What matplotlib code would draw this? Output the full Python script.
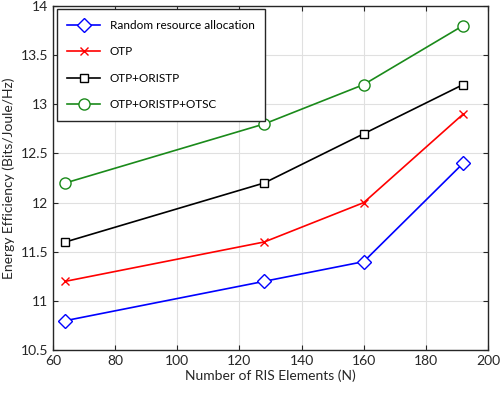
import matplotlib.pyplot as plt

plt.rcParams['font.family'] = ['Lato', 'DejaVu Sans']

n_elements = [64, 128, 160, 192]
random_alloc = [10.8, 11.2, 11.4, 12.4]
otp = [11.2, 11.6, 12.0, 12.9]
otp_oristp = [11.6, 12.2, 12.7, 13.2]
otp_oristp_otsc = [12.2, 12.8, 13.2, 13.8]

fig = plt.figure(figsize=(5, 3.93), dpi=100)
ax = fig.add_axes([0.106, 0.109, 0.87, 0.876])

ax.plot(n_elements, random_alloc, color='blue', marker='D', markersize=7,
        markerfacecolor='white', lw=1.2, label='Random resource allocation')
ax.plot(n_elements, otp, color='red', marker='x', markersize=6,
        lw=1.2, label='OTP')
ax.plot(n_elements, otp_oristp, color='black', marker='s', markersize=6,
        markerfacecolor='white', lw=1.2, label='OTP+ORISTP')
ax.plot(n_elements, otp_oristp_otsc, color='#1a8a1a', marker='o', markersize=8,
        markerfacecolor='white', lw=1.2, label='OTP+ORISTP+OTSC')

ax.set_xlim(60, 200)
ax.set_ylim(10.5, 14)
ax.set_xticks(range(60, 201, 20))
ax.set_yticks([10.5, 11, 11.5, 12, 12.5, 13, 13.5, 14])
ax.set_yticklabels(['10.5', '11', '11.5', '12', '12.5', '13', '13.5', '14'])
ax.grid(True, color='#e0e0e0', lw=0.8)
ax.set_axisbelow(True)
ax.tick_params(direction='in', top=True, right=True, labelsize=10, colors='#262626')
for s in ax.spines.values():
    s.set_color('#262626')
    s.set_linewidth(1.0)

ax.set_xlabel('Number of RIS Elements (N)', fontsize=10, color='#262626', labelpad=2)
ax.set_ylabel('Energy Efficiency (Bits/Joule/Hz)', fontsize=10, color='#262626', labelpad=4)

leg = ax.legend(loc='upper left', fontsize=8.5, fancybox=False, edgecolor='#262626',
                labelspacing=1.3, handlelength=2.8, borderpad=0.9,
                bbox_to_anchor=(0.0, 1.0), borderaxespad=0.3)
leg.get_frame().set_linewidth(1.0)
leg.get_frame().set_alpha(1)

fig.savefig('out.png', dpi=100)
